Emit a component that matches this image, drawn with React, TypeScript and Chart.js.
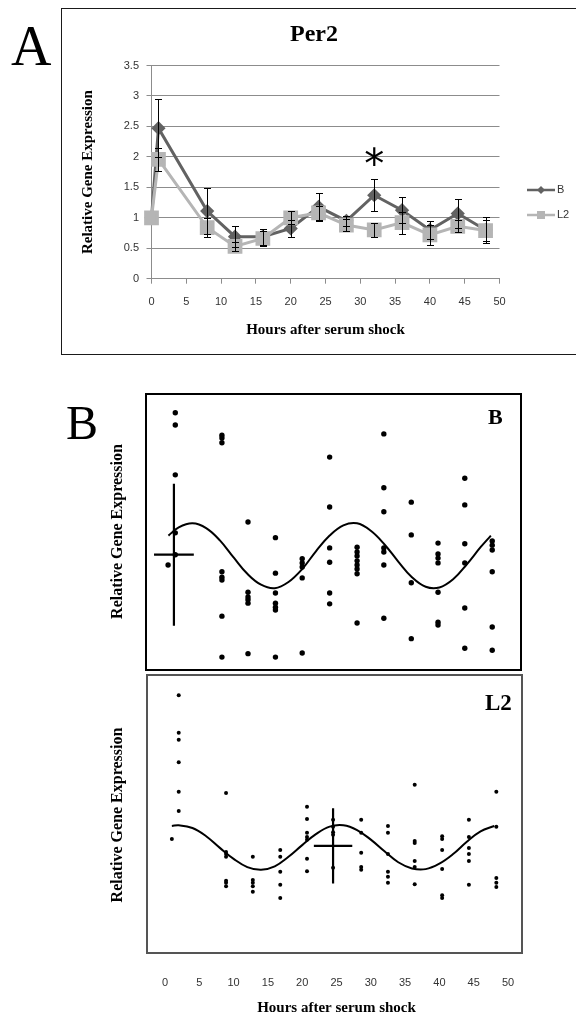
import { useEffect, useRef } from "react";
import { Chart, registerables } from "chart.js";

Chart.register(...registerables);

const SERIF = '"Liberation Serif", "Times New Roman", serif';
const SANS = '"Liberation Sans", Arial, sans-serif';
const GRID = "#8c8c8c";
const TICK_TEXT = "#333333";

// ---- Panel A: Per2 mean expression after serum shock ----
const hoursA = [0, 1, 8, 12, 16, 20, 24, 28, 32, 36, 40, 44, 48];
const perB = [1.0, 2.47, 1.11, 0.69, 0.69, 0.825, 1.18, 0.95, 1.37, 1.125, 0.8, 1.07, 0.8];
const perBErr = [0, 0.48, 0.38, 0.17, 0.13, 0.145, 0.235, 0.08, 0.26, 0.21, 0.15, 0.24, 0.215];
const perL2 = [1.0, 1.96, 0.84, 0.53, 0.66, 1.0, 1.08, 0.88, 0.8, 0.92, 0.72, 0.86, 0.79];
const perL2Err = [0, 0.19, 0.16, 0.07, 0.12, 0.11, 0.12, 0.1, 0.11, 0.18, 0.16, 0.1, 0.17];
const seriesNames = ["B", "L2"];
const significantHour = 32;
const significantLevel = 2.03;

// ---- Panel B: individual samples with cosinor fit, line B ----
const bHours = [0.45, 1.5, 8.3, 12.1, 16.1, 20.0, 24.0, 28.0, 31.9, 35.9, 39.8, 43.7, 47.7];
const bSamples = [
  [1.51],
  [3.74, 3.56, 2.83, 1.98, 1.66],
  [3.41, 3.37, 3.3, 1.41, 1.33, 1.29, 0.76, 0.16],
  [2.14, 1.11, 1.04, 1.0, 0.95, 0.21],
  [1.91, 1.39, 1.1, 0.95, 0.89, 0.85, 0.16],
  [1.6, 1.54, 1.48, 1.32, 0.22],
  [3.09, 2.36, 1.76, 1.55, 1.1, 0.94],
  [1.77, 1.7, 1.64, 1.57, 1.51, 1.45, 1.38, 0.66],
  [3.43, 2.64, 2.29, 1.76, 1.7, 1.51, 0.73],
  [2.43, 1.95, 1.25, 0.43],
  [1.83, 1.67, 1.61, 1.54, 1.11, 0.67, 0.63],
  [2.78, 2.39, 1.82, 1.54, 0.88, 0.29],
  [1.86, 1.8, 1.73, 1.41, 0.6, 0.26],
];
const bFitHours = [0.5, 2, 4, 6, 8, 10, 12, 14, 16, 18, 20, 22, 24, 26, 28, 30, 32, 34, 36, 38, 40, 42, 44, 46, 47.5];
const bFitValues = [1.94, 2.06, 2.12, 2.05, 1.87, 1.62, 1.38, 1.22, 1.17, 1.26, 1.45, 1.71, 1.94, 2.09, 2.12, 2.01, 1.81, 1.56, 1.33, 1.19, 1.18, 1.3, 1.52, 1.77, 1.94];
const bCross = { hour: 1.3, level: 1.66, hourSpread: 2.9, levelSpread: 1.04 };

// ---- Panel B: individual samples with cosinor fit, line L2 ----
const l2Hours = [1.0, 2.0, 8.9, 12.8, 16.8, 20.7, 24.5, 28.6, 32.5, 36.4, 40.4, 44.3, 48.3];
const l2Samples = [
  [1.65],
  [3.75, 3.2, 3.1, 2.77, 2.34, 2.06],
  [2.32, 1.46, 1.43, 1.39, 1.04, 1.01, 0.96],
  [1.39, 1.05, 1.01, 0.96, 0.88],
  [1.49, 1.39, 1.17, 0.98, 0.79],
  [2.12, 1.94, 1.74, 1.68, 1.64, 1.36, 1.18],
  [1.93, 1.83, 1.75, 1.71, 1.23],
  [1.93, 1.74, 1.45, 1.24, 1.2],
  [1.84, 1.74, 1.43, 1.17, 1.1, 1.01],
  [2.44, 1.62, 1.59, 1.33, 1.24, 0.99],
  [1.69, 1.65, 1.49, 1.21, 0.83, 0.79],
  [1.93, 1.68, 1.52, 1.43, 1.33, 0.98],
  [2.34, 1.83, 1.08, 1.01, 0.95],
];
const l2FitHours = [1, 2, 4, 6, 8, 10, 12, 14, 16, 18, 20, 22, 24, 26, 28, 30, 32, 34, 36, 38, 40, 42, 44, 46, 48];
const l2FitValues = [1.84, 1.85, 1.81, 1.69, 1.52, 1.36, 1.24, 1.2, 1.25, 1.39, 1.56, 1.72, 1.83, 1.85, 1.78, 1.64, 1.47, 1.31, 1.22, 1.21, 1.29, 1.43, 1.61, 1.76, 1.84];
const l2Cross = { hour: 24.5, level: 1.55, hourSpread: 2.8, levelSpread: 0.55 };

const xAxisTitle = "Hours after serum shock";
const yAxisTitle = "Relative Gene Expression";

// vertical error bars from each dataset's `errorBars` array
const errorBars = {
  id: "errorBars",
  afterDatasetsDraw(chart: any, _args: any, opts: any) {
    const { ctx } = chart;
    const xs = chart.scales.x;
    const ys = chart.scales.y;
    ctx.save();
    ctx.strokeStyle = opts.color;
    ctx.lineWidth = opts.lineWidth;
    chart.data.datasets.forEach((ds: any) => {
      const errs: number[] | undefined = ds.errorBars;
      if (!errs) return;
      ds.data.forEach((p: any, i: number) => {
        const e = errs[i];
        if (!e) return;
        const px = Math.round(xs.getPixelForValue(p.x)) + 0.5;
        const top = Math.round(ys.getPixelForValue(p.y + e)) + 0.5;
        const bot = Math.round(ys.getPixelForValue(p.y - e)) + 0.5;
        const c = opts.capWidth / 2;
        ctx.beginPath();
        ctx.moveTo(px, top);
        ctx.lineTo(px, bot);
        ctx.moveTo(px - c, top);
        ctx.lineTo(px + c, top);
        ctx.moveTo(px - c, bot);
        ctx.lineTo(px + c, bot);
        ctx.stroke();
      });
    });
    ctx.restore();
  },
};

// series key: line sample with marker, placed right of the plot area
const lineKey = {
  id: "lineKey",
  afterDraw(chart: any, _args: any, opts: any) {
    const { ctx, chartArea } = chart;
    const x0 = chartArea.right + opts.left;
    chart.data.datasets.forEach((ds: any, i: number) => {
      const y = chartArea.top + opts.top + i * opts.gap;
      ctx.save();
      ctx.strokeStyle = ds.borderColor;
      ctx.lineWidth = opts.lineWidth;
      ctx.beginPath();
      ctx.moveTo(x0, y);
      ctx.lineTo(x0 + opts.length, y);
      ctx.stroke();
      const cx = x0 + opts.length / 2;
      ctx.fillStyle = ds.pointBackgroundColor;
      ctx.beginPath();
      if (ds.pointStyle === "rectRot") {
        const r = opts.diamond;
        ctx.moveTo(cx, y - r);
        ctx.lineTo(cx + r, y);
        ctx.lineTo(cx, y + r);
        ctx.lineTo(cx - r, y);
        ctx.closePath();
      } else {
        const s = opts.square;
        ctx.rect(cx - s / 2, y - s / 2, s, s);
      }
      ctx.fill();
      ctx.fillStyle = opts.color;
      ctx.font = `${opts.fontSize}px ${SANS}`;
      ctx.textAlign = "left";
      ctx.textBaseline = "middle";
      ctx.fillText(ds.label, x0 + opts.length + opts.textGap, y);
      ctx.restore();
    });
  },
};

// significance mark placed at a data position
const markText = {
  id: "markText",
  afterDatasetsDraw(chart: any, _args: any, opts: any) {
    const { ctx } = chart;
    const x = chart.scales.x.getPixelForValue(opts.x);
    const y = chart.scales.y.getPixelForValue(opts.y);
    ctx.save();
    ctx.fillStyle = opts.color;
    ctx.font = `${opts.size}px ${opts.family}`;
    ctx.textAlign = "center";
    ctx.textBaseline = "alphabetic";
    ctx.fillText(opts.text, x, y + opts.size * opts.lift);
    ctx.restore();
  },
};

// mean/spread cross drawn on the sample panels
const spreadCross = {
  id: "spreadCross",
  afterDatasetsDraw(chart: any, _args: any, opts: any) {
    const { ctx } = chart;
    const xs = chart.scales.x;
    const ys = chart.scales.y;
    const c = opts.cross;
    ctx.save();
    ctx.strokeStyle = opts.color;
    ctx.lineWidth = opts.lineWidth;
    ctx.beginPath();
    ctx.moveTo(xs.getPixelForValue(c.hour - c.hourSpread), ys.getPixelForValue(c.level));
    ctx.lineTo(xs.getPixelForValue(c.hour + c.hourSpread), ys.getPixelForValue(c.level));
    ctx.moveTo(xs.getPixelForValue(c.hour), ys.getPixelForValue(c.level + c.levelSpread));
    ctx.lineTo(xs.getPixelForValue(c.hour), ys.getPixelForValue(c.level - c.levelSpread));
    ctx.stroke();
    ctx.restore();
  },
};

const toPoints = (xs: number[], ys: number[]) => xs.map((x, i) => ({ x, y: ys[i] }));
const toSamplePoints = (hours: number[], samples: number[][]) =>
  hours.flatMap((h, i) => samples[i].map((v) => ({ x: h, y: v })));

function perConfig(): any {
  return {
    type: "line",
    data: {
      datasets: [
        {
          label: seriesNames[0],
          data: toPoints(hoursA, perB),
          errorBars: perBErr,
          borderColor: "#626262",
          backgroundColor: "#626262",
          pointBackgroundColor: "#626262",
          pointBorderColor: "#626262",
          pointStyle: "rectRot",
          pointRadius: 5,
          borderWidth: 3,
          order: 1,
          clip: false,
        },
        {
          label: seriesNames[1],
          data: toPoints(hoursA, perL2),
          errorBars: perL2Err,
          borderColor: "#b5b5b5",
          backgroundColor: "#b5b5b5",
          pointBackgroundColor: "#b5b5b5",
          pointBorderColor: "#b5b5b5",
          pointStyle: "rect",
          pointRadius: 8.3,
          borderWidth: 3,
          order: 0,
          clip: false,
        },
      ],
    },
    options: {
      animation: false,
      responsive: false,
      events: [],
      layout: { padding: { top: 20, left: 62, right: 10, bottom: 20 } },
      plugins: {
        legend: { display: false },
        tooltip: { enabled: false },
        title: {
          display: true,
          text: "Per2",
          color: "#000",
          font: { family: SERIF, size: 24, weight: "bold" },
          padding: { top: 0, bottom: 16.7 },
        },
        errorBars: { color: "#000", lineWidth: 1, capWidth: 7 },
        lineKey: {
          left: 27.5,
          top: 124.5,
          gap: 25,
          length: 28,
          lineWidth: 2.5,
          diamond: 4,
          square: 8,
          textGap: 2,
          fontSize: 11,
          color: TICK_TEXT,
        },
        markText: {
          x: significantHour,
          y: significantLevel,
          text: "*",
          size: 40,
          lift: 0.58,
          family: '"DejaVu Sans", sans-serif',
          color: "#000",
        },
      },
      scales: {
        x: {
          type: "linear",
          min: 0,
          max: 50,
          afterFit: (s: any) => {
            s.height = 61.3;
          },
          grid: { drawOnChartArea: false, drawTicks: true, tickLength: 5, color: GRID },
          border: { color: GRID },
          ticks: { stepSize: 5, padding: 11.7, color: TICK_TEXT, font: { family: SANS, size: 11 } },
          title: {
            display: true,
            text: xAxisTitle,
            color: "#000",
            font: { family: SERIF, size: 15, weight: "bold" },
            padding: { top: 0, bottom: 1 },
          },
        },
        y: {
          type: "linear",
          min: 0,
          max: 3.5,
          afterFit: (s: any) => {
            s.width = 89.5;
          },
          grid: { color: GRID, tickLength: 5 },
          border: { color: GRID },
          ticks: {
            stepSize: 0.5,
            padding: 7.5,
            color: TICK_TEXT,
            font: { family: SANS, size: 11 },
            callback: (v: any) => String(Number(v)),
          },
          title: {
            display: true,
            text: yAxisTitle,
            color: "#000",
            font: { family: SERIF, size: 15, weight: "bold" },
            padding: { top: 17, bottom: 0 },
          },
        },
        keySpace: {
          type: "linear",
          position: "right",
          display: true,
          afterFit: (s: any) => {
            s.width = 66.5;
          },
          grid: { display: false },
          border: { display: false },
          ticks: { display: false },
        },
      },
    },
    plugins: [errorBars, lineKey, markText],
  };
}

function sampleConfig(
  hours: number[],
  samples: number[][],
  fitHours: number[],
  fitValues: number[],
  cross: any,
  pointRadius: number,
  padding: any,
  withXAxis: boolean
): any {
  return {
    type: "scatter",
    data: {
      datasets: [
        {
          type: "line",
          data: toPoints(fitHours, fitValues),
          borderColor: "#000",
          borderWidth: 2,
          pointRadius: 0,
          tension: 0.4,
          fill: false,
          clip: false,
        },
        {
          data: toSamplePoints(hours, samples),
          backgroundColor: "#000",
          borderColor: "#000",
          pointRadius,
          borderWidth: 0,
          clip: false,
        },
      ],
    },
    options: {
      animation: false,
      responsive: false,
      events: [],
      layout: { padding },
      plugins: {
        legend: { display: false },
        tooltip: { enabled: false },
        spreadCross: { cross, color: "#000", lineWidth: 2.2 },
      },
      scales: {
        x: withXAxis
          ? {
              type: "linear",
              min: 0,
              max: 50,
              afterFit: (s: any) => {
                s.height = 65;
              },
              grid: { display: false, drawTicks: false },
              border: { display: false },
              ticks: { stepSize: 5, padding: 24.4, color: TICK_TEXT, font: { family: SANS, size: 11 } },
              title: {
                display: true,
                text: xAxisTitle,
                color: "#000",
                font: { family: SERIF, size: 15, weight: "bold" },
                padding: { top: 0, bottom: 0 },
              },
            }
          : { type: "linear", min: 0, max: 50, display: false },
        y: {
          type: "linear",
          min: 0,
          max: 4,
          afterFit: (s: any) => {
            s.width = 65;
          },
          grid: { display: false, drawTicks: false },
          border: { display: false },
          ticks: { display: false },
          title: {
            display: true,
            text: yAxisTitle,
            color: "#000",
            font: { family: SERIF, size: 16, weight: "bold" },
            padding: { top: 8.4, bottom: 0 },
          },
        },
      },
    },
    plugins: [spreadCross],
  };
}

function ChartCanvas(props: { left: number; top: number; width: number; height: number; build: () => any }) {
  const ref = useRef<HTMLCanvasElement>(null);
  useEffect(() => {
    const chart = new Chart(ref.current as HTMLCanvasElement, props.build());
    return () => chart.destroy();
  }, []);
  return (
    <canvas
      ref={ref}
      width={props.width}
      height={props.height}
      style={{ position: "absolute", left: props.left, top: props.top, width: props.width, height: props.height }}
    />
  );
}

const textStyle = (left: number, top: number, size: number, bold: boolean): any => ({
  position: "absolute",
  left,
  top,
  fontFamily: SERIF,
  fontSize: size,
  lineHeight: `${size}px`,
  fontWeight: bold ? "bold" : "normal",
  color: "#000",
  whiteSpace: "nowrap",
});

export default function App() {
  return (
    <div style={{ position: "absolute", left: 0, top: 0, width: 576, height: 1017, overflow: "hidden", background: "#fff" }}>
      <ChartCanvas left={0} top={0} width={576} height={360} build={perConfig} />
      <ChartCanvas
        left={0}
        top={380}
        width={576}
        height={300}
        build={() =>
          sampleConfig(bHours, bSamples, bFitHours, bFitValues, bCross, 2.7, { top: 15, bottom: 12, left: 100, right: 68 }, false)
        }
      />
      <ChartCanvas
        left={0}
        top={674}
        width={576}
        height={343}
        build={() =>
          sampleConfig(l2Hours, l2Samples, l2FitHours, l2FitValues, l2Cross, 2, { top: 4, bottom: 0, left: 100, right: 68 }, true)
        }
      />
      {/* panel frames */}
      <div style={{ position: "absolute", left: 61, top: 8, width: 530, height: 347, boxSizing: "border-box", border: "1.5px solid #1a1a1a", borderRight: "none", pointerEvents: "none" }} />
      <div style={{ position: "absolute", left: 145, top: 393, width: 377, height: 278, boxSizing: "border-box", border: "2px solid #000", pointerEvents: "none" }} />
      <div style={{ position: "absolute", left: 146, top: 674, width: 377, height: 280, boxSizing: "border-box", border: "2.5px solid #555", pointerEvents: "none" }} />
      {/* panel letters and series labels */}
      <div style={textStyle(11, 18, 56, false)}>A</div>
      <div style={textStyle(66, 399, 48, false)}>B</div>
      <div style={textStyle(488, 406, 22, true)}>B</div>
      <div style={textStyle(485, 691, 23, true)}>L2</div>
    </div>
  );
}
